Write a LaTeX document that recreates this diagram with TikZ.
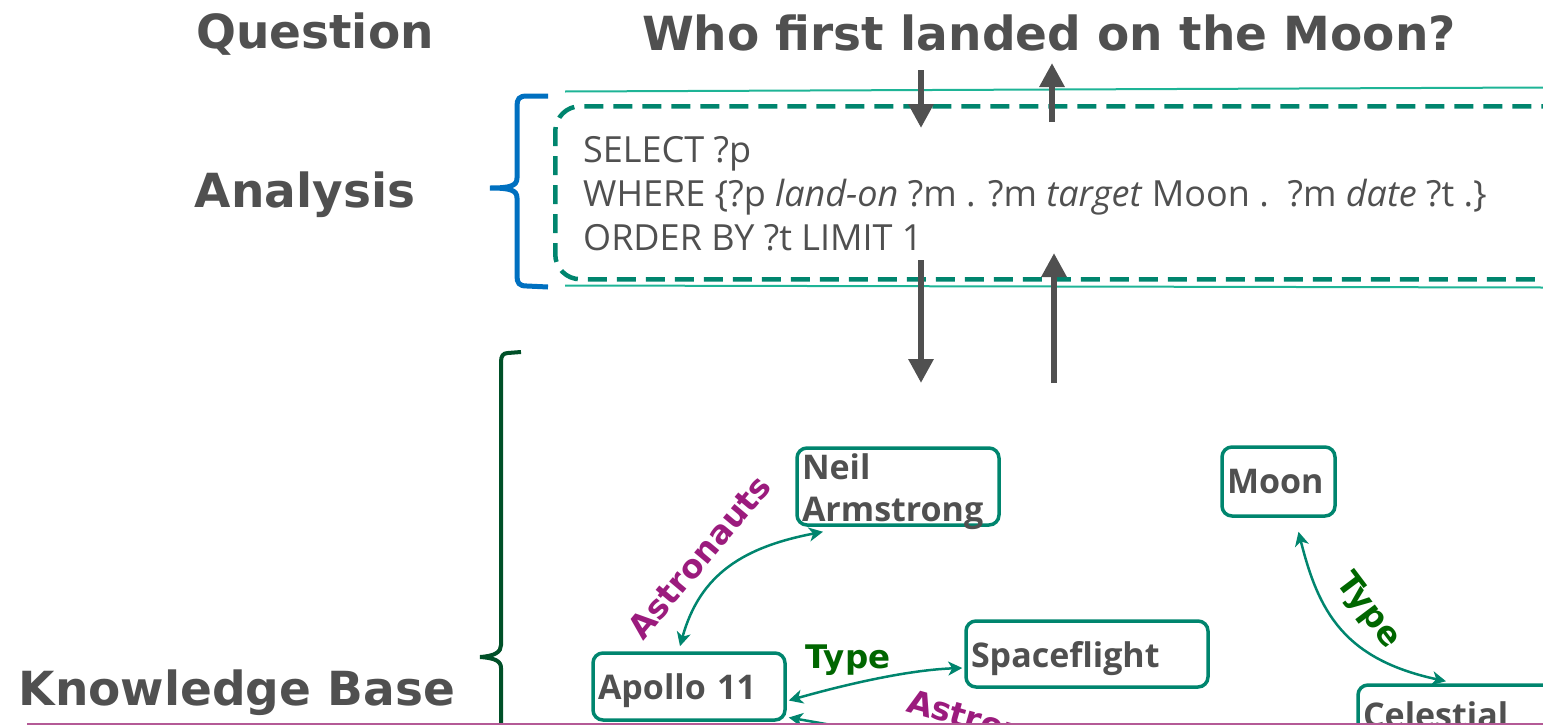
\documentclass[tikz,border=0pt]{standalone}
\usepackage{fontspec}
\setmainfont{Open Sans}
\newfontfamily\dvs{DejaVu Sans}
\usetikzlibrary{arrows.meta}
\definecolor{txtgrey}{RGB}{80,80,80}
\definecolor{teal1}{RGB}{0,133,110}
\definecolor{teallight}{RGB}{30,180,150}
\definecolor{purp}{RGB}{155,27,125}
\definecolor{dgreen}{RGB}{0,102,0}
\definecolor{bracegreen}{RGB}{0,80,40}
\definecolor{braceblue}{RGB}{0,112,192}
\definecolor{pinkline}{RGB}{180,90,150}
\begin{document}
\begin{tikzpicture}[x=1pt,y=-1pt,
  title/.style={font=\dvs\bfseries\fontsize{47}{56}\selectfont, text=txtgrey, inner sep=0pt},
  query/.style={font=\fontsize{36}{44}\selectfont, text=txtgrey, inner sep=0pt},
  qboxstyle/.style={draw=teal1, line width=4.5pt, dash pattern=on 19pt off 10pt, rounded corners=25pt},
  kbox/.style={draw=teal1, line width=3.5pt, rounded corners=10pt, inner sep=0pt, align=left, text depth=0pt,
     text=txtgrey, font=\bfseries\fontsize{34}{40}\selectfont},
  kedge/.style={draw=teal1, line width=2.5pt, {Stealth[length=14pt,width=14pt,inset=4pt]}-{Stealth[length=14pt,width=14pt,inset=4pt]}},
  kedgeone/.style={draw=teal1, line width=2.5pt, {Stealth[length=14pt,width=14pt,inset=4pt]}-},
  elabel/.style={font=\dvs\bfseries\fontsize{32.5}{36}\selectfont, inner sep=0pt},
  bigarrow/.style={draw=txtgrey, line width=6pt, -{Triangle[width=24pt,length=24pt]}},
  thinteal/.style={draw=teallight, line width=2pt},
]
\useasboundingbox (0,0) rectangle (1543,726);
\begin{scope}
\clip (0,0) rectangle (1543,723);
% titles
\node[title, anchor=base] (qlabel) at (315,48) {Question};
\node[title, anchor=base] (question) at (1049,50) {Who first landed on the Moon?};
\node[title, anchor=base] (alabel) at (305,207) {Analysis};
\node[title, anchor=base] (kblabel) at (237,705) {Knowledge Base};
% thin teal lines
\draw[thinteal] (565,91.5) -- (1543,87.5);
\draw[thinteal] (565,285.5) -- (1543,287.5);
% query box
\node[qboxstyle, anchor=north west, minimum width=1030pt, minimum height=173pt] (qbox) at (553,104) {};
\node[query, anchor=base west] (q1) at (583,162) {SELECT ?p};
\node[query, anchor=base west] (q2) at (583,206) {WHERE \{?p \textit{land-on} ?m . ?m \textit{target} Moon .\ \ ?m \textit{date} ?t .\}};
\node[query, anchor=base west] (q3) at (583,250) {ORDER BY ?t LIMIT 1};
% braces
\draw[braceblue, line width=5pt] (548,96) -- (527,96) .. controls (519,96) and (517,99) .. (517,106) -- (517,178)
  .. controls (517,186) and (510,188) .. (490,188) .. controls (510,188) and (517,190) .. (517,198) -- (517,276)
  .. controls (517,283) and (519,286) .. (527,286) -- (548,287);
\draw[bracegreen, line width=4pt] (521,352) -- (508,353) .. controls (503,353) and (501,356) .. (501,362) -- (501,645)
  .. controls (501,652) and (495,656) .. (480,657) .. controls (495,658) and (501,661) .. (501,668) -- (501,740);
% big arrows
\coordinate (d1s) at (921,70); \coordinate (d1e) at (921,128);
\coordinate (u1s) at (1052,122); \coordinate (u1e) at (1052,63);
\coordinate (d2s) at (921,260); \coordinate (d2e) at (921,383);
\coordinate (u2s) at (1054,383); \coordinate (u2e) at (1054,253);
\draw[bigarrow] (d1s) -- (d1e);
\draw[bigarrow] (u1s) -- (u1e);
\draw[bigarrow] (d2s) -- (d2e);
\draw[bigarrow] (u2s) -- (u2e);
% knowledge nodes
\node[kbox, text depth=40pt, minimum width=202pt, minimum height=77pt, text width=192pt] (neil) at (898,486.5) {Neil\\[2pt]Armstrong};
\node[kbox, minimum width=113pt, minimum height=69pt, text width=103pt] (moon) at (1278.5,481.5) {Moon};
\node[kbox, minimum width=242pt, minimum height=66pt, text width=232pt] (space) at (1087,654) {Spaceflight};
\node[kbox, minimum width=192pt, minimum height=67pt, text width=182pt] (apollo) at (689,686.5) {Apollo 11};
\node[kbox, minimum width=220pt, minimum height=60pt, text width=210pt] (celes) at (1468,715) {Celestial};
% edges
\draw[kedge] ([xshift=-9pt,yshift=5pt]apollo.north) .. controls +(20,-73) and +(-78,15) .. ([xshift=-75pt,yshift=-5pt]neil.south);
\draw[kedge] ([xshift=2pt,yshift=-14pt]apollo.east) .. controls +(53,-15) and +(-56,2) .. ([xshift=-2pt,yshift=-14pt]space.west);
\coordinate (lowend) at (900,737);
\draw[kedgeone] ([xshift=2pt,yshift=-31pt]apollo.east) -- (lowend);
\draw[kedge] ([xshift=20pt,yshift=-14pt]moon.south) .. controls +(20,80) and +(-102,-22) .. ([xshift=-22pt,yshift=2pt]celes.north);
% edge labels
\node[elabel, text=purp, rotate=50] (lab1) at (699,557) {Astronauts};
\node[elabel, text=dgreen] (lab2) at (848,660) {Type};
\node[elabel, text=purp, rotate=-16, anchor=base west] (lab3) at (905,711) {Astronauts};
\node[elabel, text=dgreen, rotate=-53] (lab4) at (1368,611) {Type};
\end{scope}
\draw[pinkline, line width=2pt] (27,724) -- (1543,724);
\end{tikzpicture}
\end{document}
